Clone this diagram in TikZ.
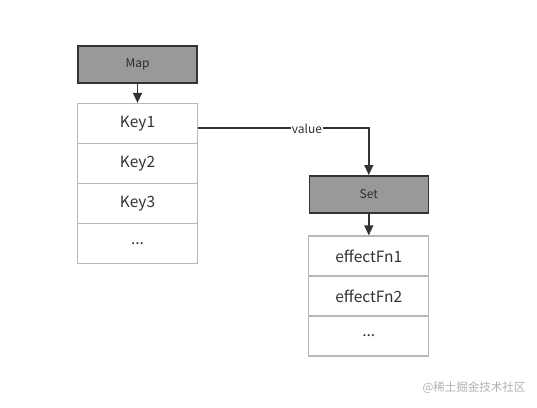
\documentclass[tikz,border=0pt]{standalone}
\usepackage{fontspec}
\setmainfont{Noto Sans CJK SC}
\usetikzlibrary{arrows.meta}
\definecolor{hdrfill}{HTML}{999999}
\definecolor{hdrline}{HTML}{333333}
\definecolor{cellline}{HTML}{B8B8B8}
\definecolor{txt}{HTML}{333333}
\definecolor{wm}{HTML}{B0B0B0}
\tikzset{
  hdr/.style={draw=hdrline, line width=1.6pt, fill=hdrfill, minimum width=119pt, minimum height=37pt, inner sep=0pt, text=txt!85!black, font=\fontsize{12}{14}\selectfont},
  cell/.style={draw=cellline, line width=1.3pt, fill=white, minimum width=120pt, minimum height=40pt, inner sep=0pt, text=txt, font=\fontsize{15.5}{18}\selectfont},
  conn/.style={draw=hdrline, line width=1.4pt, -{Triangle[length=10pt,width=9pt]}},
}
\begin{document}
\begin{tikzpicture}[x=1pt,y=-1pt]
\useasboundingbox (0,0) rectangle (537,407);
\node[hdr] (map) at (137.5,64.5) {Map};
\node[cell] (k1) at (137.5,123.5) {Key1};
\node[cell] (k2) at (137.5,163.5) {Key2};
\node[cell] (k3) at (137.5,203.5) {Key3};
\node[cell] (k4) at (137.5,243.5) {...};
\node[hdr] (set) at (368.8,194.3) {Set};
\node[cell] (e1) at (368.8,256) {effectFn1};
\node[cell] (e2) at (368.8,296) {effectFn2};
\node[cell] (e3) at (368.8,336) {...};
\coordinate (bend) at (368.8,128);
\coordinate (kstart) at (197.5,128);
\draw[conn] (map.south) -- (k1.north);
\draw[conn] (kstart) -- (bend) -- (set.north);
\node[fill=white, inner sep=1pt, text=txt, font=\fontsize{12}{14}\selectfont] (val) at (307,129) {value};
\draw[conn] (set.south) -- (e1.north);
\node[text=wm, inner sep=0pt, font=\fontsize{11.5}{13}\selectfont] (wmk) at (474,388) {@稀土掘金技术社区};
\end{tikzpicture}
\end{document}
